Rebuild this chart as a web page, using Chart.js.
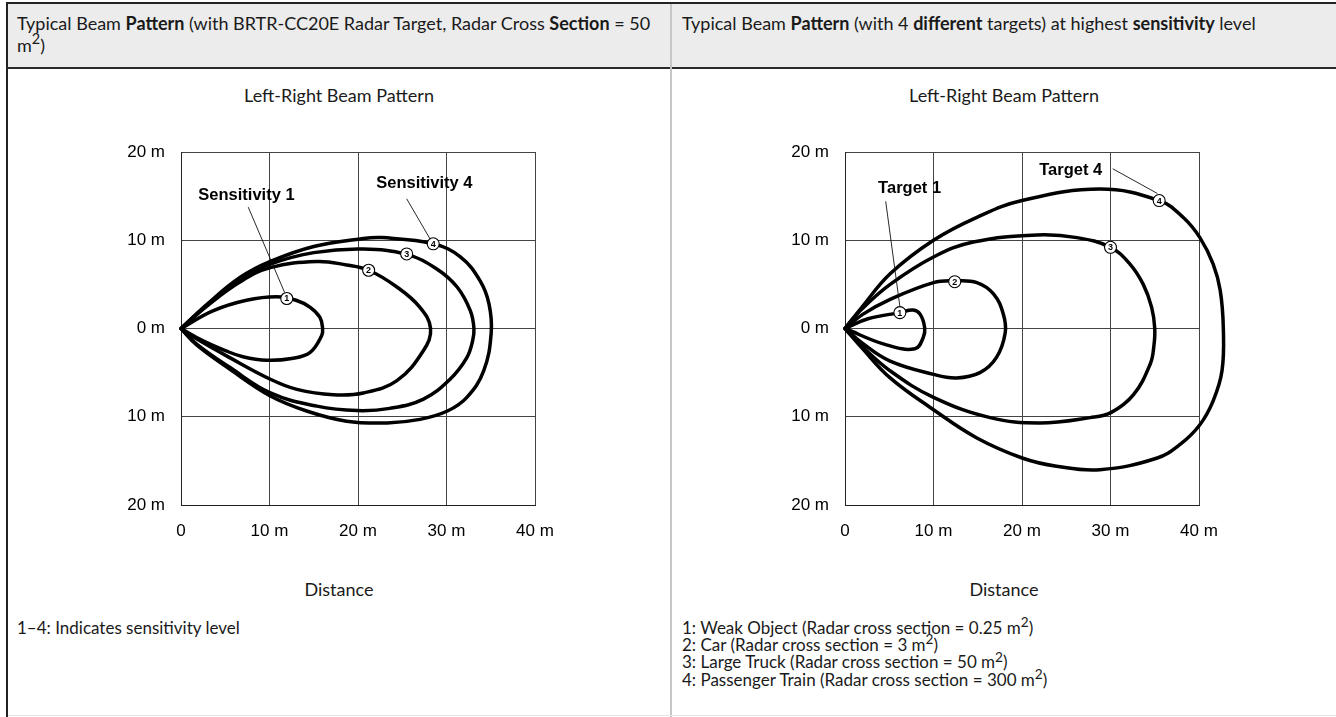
<!DOCTYPE html>
<html>
<head>
<meta charset="utf-8">
<script src="https://cdn.jsdelivr.net/npm/chart.js@4.4.1/dist/chart.umd.min.js"></script>
<style>
    html, body {
        margin: 0;
        padding: 0;
        background: #fff;
    }
    body {
        width: 1336px;
        height: 717px;
        position: relative;
        overflow: hidden;
        font-family: Lato, "Open Sans", sans-serif;
        color: #1a1a1a;
    }
    .rule { position: absolute; }
    .frame-top { left: 6px; top: 2px; width: 1330px; height: 2px; background: #222; }
    .frame-left { left: 6px; top: 2px; width: 2px; height: 715px; background: #222; }
    .head-bg { left: 8px; top: 4px; width: 1328px; height: 63px; background: #ececec; }
    .head-line { left: 6px; top: 67px; width: 1330px; height: 2px; background: #2a2a2a; }
    .divider { left: 670px; top: 4px; width: 2px; height: 713px; background: #c6c6c6; }
    .foot-line { left: 8px; top: 715px; width: 1328px; height: 1px; background: #e4e4e4; }

    .txt {
        position: absolute;
        font-size: 18px;
        line-height: 22px;
        white-space: nowrap;
    }
    .txt b { font-weight: 700; }
    sup {
        font-size: 0.8em;
        line-height: 0;
        vertical-align: baseline;
        position: relative;
        top: -0.5em;
    }
    .center { text-align: center; }
    .notes { font-size: 17px; line-height: 17.4px; }

    .chart-box {
        position: absolute;
        top: 0;
        height: 717px;
        z-index: 2;
    }
</style>
</head>
<body>
    <div class="rule head-bg"></div>
    <div class="rule frame-top"></div>
    <div class="rule frame-left"></div>
    <div class="rule head-line"></div>
    <div class="rule divider"></div>
    <div class="rule foot-line"></div>

    <div class="txt" style="left:17px; top:11.6px;">Typical Beam <b>Pattern</b> (with BRTR-CC20E Radar Target, Radar Cross <b>Section</b> = 50<br>m<sup>2</sup>)</div>
    <div class="txt" style="left:682px; top:11.6px;">Typical Beam <b>Pattern</b> (with 4 <b>different</b> targets) at highest <b>sensitivity</b> level</div>

    <div class="txt center" style="left:8px; width:662px; top:84.3px;">Left-Right Beam Pattern</div>
    <div class="txt center" style="left:672px; width:664px; top:84.3px;">Left-Right Beam Pattern</div>

    <div class="txt center" style="left:8px; width:662px; top:578.3px;">Distance</div>
    <div class="txt center" style="left:672px; width:664px; top:578.3px;">Distance</div>

    <div class="txt notes" style="left:17px; top:618.5px;">1–4: Indicates sensitivity level</div>
    <div class="txt notes" style="left:682px; top:618.5px;">
        1: Weak Object (Radar cross section = 0.25 m<sup>2</sup>)<br>
        2: Car (Radar cross section = 3 m<sup>2</sup>)<br>
        3: Large Truck (Radar cross section = 50 m<sup>2</sup>)<br>
        4: Passenger Train (Radar cross section = 300 m<sup>2</sup>)
    </div>

    <div class="chart-box" style="left:0; width:671px;"><canvas id="sensitivityChart"></canvas></div>
    <div class="chart-box" style="left:671px; width:665px;"><canvas id="targetChart"></canvas></div>

<script>
// tick labels (y listed bottom to top)
const xTickLabels = ["0", "10 m", "20 m", "30 m", "40 m"];
const yTickLabels = ["20 m", "10 m", "0 m", "10 m", "20 m"];

// left chart: one closed lobe per sensitivity level, [distance m, lateral m]
const sensitivity1 = [[0, 0], [3.6, 2.0], [7.4, 3.2], [10.8, 3.6], [13, 3.2], [14.6, 2.4], [15.7, 1.25], [16, 0], [15.9, -0.8], [14.6, -2.7], [12.5, -3.4], [9.7, -3.6], [7, -3.2], [5, -2.5], [2.5, -1.4], [0, 0]];
const sensitivity2 = [[0, 0], [3, 2.6], [6.7, 5.3], [10.1, 6.9], [15.35, 7.6], [18.7, 7.2], [21.2, 6.6], [24.4, 4.7], [27, 2.4], [28.2, 0], [27.4, -2.5], [24.4, -5.9], [20.6, -7.3], [17.2, -7.5], [13.1, -6.9], [10.1, -5.75], [5.5, -3.3], [1.8, -1.2], [0, 0]];
const sensitivity3 = [[0, 0], [3, 2.7], [6.7, 5.6], [10.1, 7.3], [15, 8.6], [20.6, 9.0], [25.5, 8.4], [28.9, 6.75], [31.2, 4.7], [32.7, 2.0], [33.1, 0], [32.95, -1.4], [32.3, -3.3], [30.4, -5.75], [27.4, -8.0], [23.6, -9.05], [19.9, -9.3], [15.35, -8.8], [10.1, -7.3], [5.5, -4.4], [1.8, -1.8], [0, 0]];
const sensitivity4 = [[0, 0], [3, 2.8], [6.7, 5.8], [10.1, 7.6], [15, 9.3], [20.6, 10.2], [22.7, 10.3], [28.5, 9.6], [31.6, 8.1], [33.8, 5.4], [34.8, 2.8], [35.05, -0.5], [34.2, -4.8], [32.3, -7.8], [30.1, -9.35], [27, -10.3], [23.3, -10.7], [18.7, -10.5], [14.2, -9.35], [10.1, -7.65], [5.5, -4.6], [1.8, -1.9], [0, 0]];

// right chart: one closed lobe per target type
const target1 = [[0, 0], [2.6, 1.1], [6.2, 1.8], [7.7, 2.1], [8.5, 1.6], [9.0, 0.1], [8.85, -1.0], [7.9, -2.3], [4.5, -1.8], [0, 0]];
const target2 = [[0, 0], [2, 1.6], [5.1, 3.3], [10, 5.2], [12.4, 5.4], [14.9, 5.2], [16.8, 3.9], [17.9, 1.6], [18.1, -0.5], [17.1, -3.3], [15.25, -5.0], [12.6, -5.6], [10, -5.2], [5.1, -3.7], [2, -1.7], [0, 0]];
const target3 = [[0, 0], [1.9, 2.2], [5.1, 5.0], [10, 8.1], [14.5, 9.8], [21.7, 10.6], [26.2, 10.3], [30, 9.2], [32.2, 7.3], [33.7, 5.0], [34.65, 2.4], [35, 0], [34.9, -2.0], [34.5, -4.0], [32.6, -7.5], [30.1, -9.5], [27.7, -10.1], [22, -10.7], [16.4, -10.1], [10, -7.8], [5.1, -4.8], [1.9, -2.0], [0, 0]];
const target4 = [[0, 0], [1.9, 2.4], [5.1, 6.2], [10, 10], [14.9, 12.6], [20, 14.5], [28.8, 15.8], [35.5, 14.5], [38.2, 12.6], [40.1, 10.3], [41.6, 7.3], [42.4, 4.3], [42.75, 0], [42.6, -4.8], [41.6, -8.2], [40.1, -10.9], [37.9, -13.1], [35.2, -14.7], [28.8, -16], [23.9, -15.6], [20.1, -14.7], [14.9, -12.4], [10, -9.2], [5.1, -5.6], [1.9, -2.2], [0, 0]];

// circled number markers on each lobe
const sensitivityMarkers = [[11.95, 3.4], [21.2, 6.6], [25.5, 8.45], [28.5, 9.6]];
const targetMarkers = [[6.2, 1.8], [12.4, 5.3], [30, 9.2], [35.5, 14.5]];

// callout labels: text, label anchor, leader start, leader end
const sensitivityCallouts = [
    { text: "Sensitivity 1", at: [7.4, 15.1], from: [7.6, 13.75], to: [11.7, 4.1] },
    { text: "Sensitivity 4", at: [27.5, 16.4], from: [25.5, 14.7], to: [28.2, 10.05] }
];
const targetCallouts = [
    { text: "Target 1", at: [7.3, 15.85], from: [4.6, 14.4], to: [6.2, 2.5] },
    { text: "Target 4", at: [25.5, 17.9], from: [30.25, 18.1], to: [35.3, 15.3] }
];

const chartFont = "'Liberation Sans', Arial, sans-serif";

const calloutPlugin = {
    id: "callouts",
    afterDatasetsDraw(chart, args, opts) {
        const { ctx } = chart;
        const xs = chart.scales.x;
        const ys = chart.scales.y;
        const px = (p) => [xs.getPixelForValue(p[0]), ys.getPixelForValue(p[1])];

        ctx.save();
        // leader lines + bold labels
        opts.callouts.forEach((c) => {
            const a = px(c.from);
            const b = px(c.to);
            ctx.beginPath();
            ctx.moveTo(a[0], a[1]);
            ctx.lineTo(b[0], b[1]);
            ctx.lineWidth = 0.9;
            ctx.strokeStyle = "#111";
            ctx.stroke();

            const t = px(c.at);
            ctx.font = `bold 16.5px ${chartFont}`;
            ctx.fillStyle = "#000";
            ctx.textAlign = "center";
            ctx.textBaseline = "middle";
            ctx.fillText(c.text, t[0], t[1]);
        });

        // numbered circles
        opts.markers.forEach((m, i) => {
            const p = px(m);
            ctx.beginPath();
            ctx.arc(p[0], p[1], 6, 0, Math.PI * 2);
            ctx.fillStyle = "#fff";
            ctx.fill();
            ctx.lineWidth = 1.1;
            ctx.strokeStyle = "#000";
            ctx.stroke();
            ctx.font = `bold 9px ${chartFont}`;
            ctx.fillStyle = "#000";
            ctx.textAlign = "center";
            ctx.textBaseline = "middle";
            ctx.fillText(String(i + 1), p[0], p[1] + 0.5);
        });
        ctx.restore();
    }
};

function lobe(points) {
    return {
        data: points.map((p) => ({ x: p[0], y: p[1] })),
        showLine: true,
        borderColor: "#000",
        borderWidth: 3.5,
        pointRadius: 0,
        tension: 0.4,
        clip: false
    };
}

function buildConfig(lobes, markers, callouts, pad) {
    return {
        type: "scatter",
        data: { datasets: lobes.map(lobe) },
        options: {
            responsive: true,
            maintainAspectRatio: false,
            animation: false,
            events: [],
            layout: { padding: pad },
            elements: { line: { capBezierPoints: false, borderCapStyle: "round", borderJoinStyle: "round" } },
            plugins: {
                legend: { display: false },
                tooltip: { enabled: false },
                callouts: { markers, callouts }
            },
            scales: {
                x: {
                    type: "linear",
                    min: 0,
                    max: 40,
                    afterFit(scale) { scale.height = 40; },
                    grid: { color: "#444", lineWidth: 1, drawTicks: false },
                    border: { color: "#222", width: 1 },
                    ticks: {
                        stepSize: 10,
                        autoSkip: false,
                        maxRotation: 0,
                        padding: 16,
                        color: "#000",
                        font: { family: chartFont, size: 17 },
                        callback: (value, index) => xTickLabels[index]
                    }
                },
                y: {
                    type: "linear",
                    min: -20,
                    max: 20,
                    afterFit(scale) { scale.width = 60; },
                    grid: { color: "#444", lineWidth: 1, drawTicks: false },
                    border: { color: "#222", width: 1 },
                    ticks: {
                        stepSize: 10,
                        autoSkip: false,
                        padding: 16,
                        color: "#000",
                        font: { family: chartFont, size: 17 },
                        callback: (value, index) => yTickLabels[index]
                    }
                }
            }
        },
        plugins: [calloutPlugin]
    };
}

document.addEventListener("DOMContentLoaded", () => {
    new Chart(document.getElementById("sensitivityChart"), buildConfig(
        [sensitivity1, sensitivity2, sensitivity3, sensitivity4],
        sensitivityMarkers,
        sensitivityCallouts,
        { left: 121, top: 152, right: 136, bottom: 172 }
    ));

    new Chart(document.getElementById("targetChart"), buildConfig(
        [target1, target2, target3, target4],
        targetMarkers,
        targetCallouts,
        { left: 114, top: 152, right: 137, bottom: 172 }
    ));
});
</script>
</body>
</html>
